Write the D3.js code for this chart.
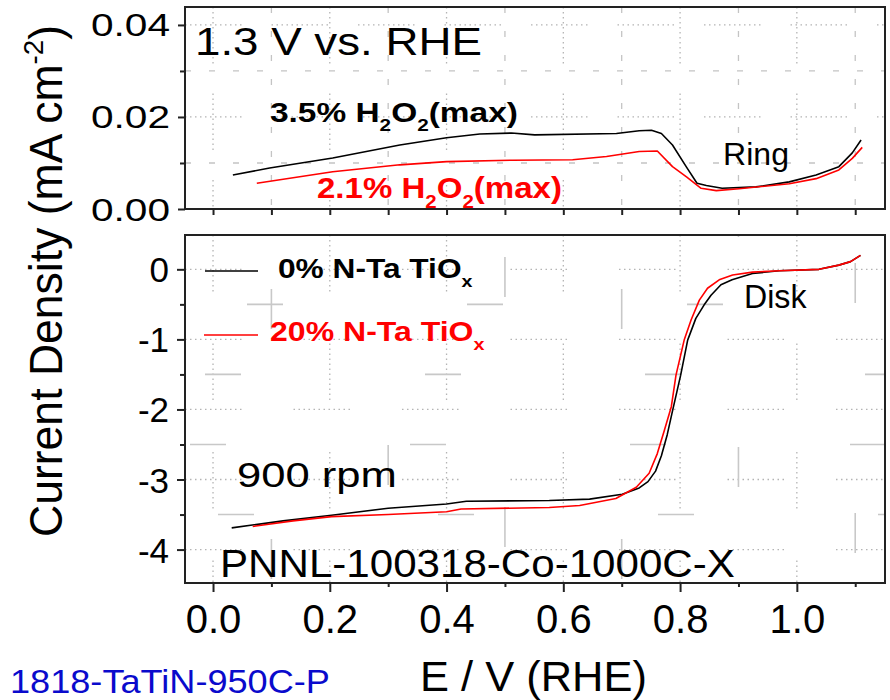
<!DOCTYPE html>
<html>
<head>
<meta charset="utf-8">
<script src="https://cdn.jsdelivr.net/npm/d3@7"></script>
<style>
  body { margin: 0; background: #fff; }
  svg { display: block; }
  text { font-family: "Liberation Sans", Arial, sans-serif; }
</style>
</head>
<body>
<svg id="chart" width="890" height="700"></svg>
<script>
// Axis ticks
const potentialTicks = [0, 0.2, 0.4, 0.6, 0.8, 1.0];
const potentialTickLabels = ["0.0", "0.2", "0.4", "0.6", "0.8", "1.0"];
const potentialMinor = [0.1, 0.3, 0.5, 0.7, 0.9, 1.1];
const ringTicks = [0, 0.02, 0.04];
const ringTickLabels = ["0.00", "0.02", "0.04"];
const ringMinor = [0.01, 0.03];
const diskTicks = [0, -1, -2, -3, -4];
const diskTickLabels = ["0", "-1", "-2", "-3", "-4"];
const diskMinor = [-0.5, -1.5, -2.5, -3.5];

// Ring current (mA cm-2) vs potential (V RHE)
const ringE_0 = [0.034, 0.097, 0.205, 0.320, 0.400, 0.457, 0.511, 0.551, 0.691, 0.730, 0.751, 0.768, 0.787, 0.811, 0.829, 0.845, 0.872, 0.930, 0.987, 1.033, 1.072, 1.095, 1.110];
const ringJ_0 = [0.0074, 0.0089, 0.0111, 0.0139, 0.0155, 0.0163, 0.0165, 0.0161, 0.0164, 0.0170, 0.0171, 0.0164, 0.0139, 0.0091, 0.0056, 0.0051, 0.0045, 0.0048, 0.0059, 0.0074, 0.0092, 0.0122, 0.0150];
const ringE_20 = [0.075, 0.205, 0.320, 0.400, 0.513, 0.616, 0.674, 0.730, 0.761, 0.787, 0.811, 0.836, 0.862, 0.901, 0.987, 1.033, 1.072, 1.095, 1.112];
const ringJ_20 = [0.0056, 0.0081, 0.0096, 0.0103, 0.0106, 0.0107, 0.0114, 0.0125, 0.0126, 0.0092, 0.0070, 0.0045, 0.0040, 0.0044, 0.0055, 0.0066, 0.0085, 0.0110, 0.0134];

// Disk current (mA cm-2) vs potential (V RHE)
const diskE_0 = [0.032, 0.120, 0.203, 0.300, 0.400, 0.434, 0.576, 0.645, 0.701, 0.730, 0.745, 0.758, 0.768, 0.778, 0.786, 0.801, 0.813, 0.827, 0.841, 0.853, 0.870, 0.889, 0.924, 0.970, 1.038, 1.072, 1.092, 1.109];
const diskJ_0 = [-3.69, -3.59, -3.51, -3.41, -3.35, -3.31, -3.30, -3.28, -3.21, -3.12, -3.03, -2.88, -2.66, -2.36, -2.06, -1.51, -1.01, -0.70, -0.51, -0.37, -0.22, -0.15, -0.06, -0.02, 0.00, 0.06, 0.11, 0.20];
const diskE_20 = [0.068, 0.137, 0.203, 0.300, 0.400, 0.425, 0.576, 0.628, 0.690, 0.725, 0.747, 0.761, 0.773, 0.785, 0.793, 0.807, 0.819, 0.833, 0.847, 0.867, 0.890, 0.924, 0.970, 1.038, 1.072, 1.092, 1.109];
const diskJ_20 = [-3.67, -3.59, -3.53, -3.50, -3.46, -3.42, -3.40, -3.37, -3.27, -3.11, -2.91, -2.63, -2.30, -1.96, -1.51, -1.01, -0.72, -0.44, -0.27, -0.15, -0.08, -0.04, -0.02, 0.00, 0.06, 0.11, 0.20];

const svg = d3.select("#chart");

const left = 185, right = 885;
const ringTop = 7, ringBottom = 209;
const diskTop = 235, diskBottom = 583;

const x = d3.scaleLinear().domain([-0.048, 1.151]).range([left, right]);
const yRing = d3.scaleLinear().domain([0, 0.0439]).range([ringBottom, ringTop]);
const yDisk = d3.scaleLinear().domain([-4.477, 0.49]).range([diskBottom, diskTop]);

// dotted pattern that comes in runs separated by gaps
function dottedRuns(dots, gap) {
  const a = [];
  for (let i = 0; i < dots; i++) a.push(1.5, 3.5);
  a[a.length - 1] = gap;
  return a.join(",");
}

// ---------- grids ----------
function grid(g, xs, ys, yScale, top, bottom, style) {
  g.selectAll(null).data(xs).join("line")
    .attr("x1", d => x(d)).attr("x2", d => x(d))
    .attr("y1", top).attr("y2", bottom)
    .attr("stroke", style.color).attr("stroke-width", style.width)
    .attr("stroke-dasharray", style.dashV || style.dash)
    .attr("stroke-dashoffset", (d, i) => style.offV ? style.offV[i] : 0);
  g.selectAll(null).data(ys).join("line")
    .attr("x1", left).attr("x2", right)
    .attr("y1", d => yScale(d)).attr("y2", d => yScale(d))
    .attr("stroke", style.color).attr("stroke-width", style.width)
    .attr("stroke-dasharray", style.dashH || style.dash)
    .attr("stroke-dashoffset", (d, i) => style.offH ? style.offH[i] : 0);
}

const gridG = svg.append("g");
// ring panel
grid(gridG, potentialTicks, [0.02, 0.04], yRing, ringTop, ringBottom,
  { color: "#b4b4b4", width: 1.3, dash: dottedRuns(12, 30) });
grid(gridG, potentialMinor, ringMinor, yRing, ringTop, ringBottom,
  { color: "#c4c4c4", width: 1.3, dash: "6,18" });
// disk panel
grid(gridG, potentialTicks, diskTicks, yDisk, diskTop, diskBottom,
  { color: "#b4b4b4", width: 1.3, dash: dottedRuns(12, 52) });
grid(gridG, potentialMinor, diskMinor, yDisk, diskTop, diskBottom,
  { color: "#c8c8c8", width: 1.6, dashH: "36,184", dashV: "40,210",
    offH: [220 - 62, 220 - 20, 220 - 5, 220 - 33],
    offV: [250 - 54, 250 - 210, 250 - 22, 250 - 54, 250 - 212, 250 - 28] });

// ---------- curves ----------
const ringLine = d3.line().x(d => x(d[0])).y(d => yRing(d[1]));
const diskLine = d3.line().x(d => x(d[0])).y(d => yDisk(d[1]));
const curves = svg.append("g").attr("fill", "none").attr("stroke-width", 1.6).attr("stroke-linejoin", "round");
curves.append("path").attr("d", ringLine(d3.zip(ringE_0, ringJ_0))).attr("stroke", "#000");
curves.append("path").attr("d", ringLine(d3.zip(ringE_20, ringJ_20))).attr("stroke", "#ff0000");
curves.append("path").attr("d", diskLine(d3.zip(diskE_0, diskJ_0))).attr("stroke", "#000");
curves.append("path").attr("d", diskLine(d3.zip(diskE_20, diskJ_20))).attr("stroke", "#ff0000");

// ---------- frames ----------
svg.append("rect").attr("x", left).attr("y", ringTop).attr("width", right - left).attr("height", ringBottom - ringTop)
  .attr("fill", "none").attr("stroke", "#222").attr("stroke-width", 2);
svg.append("rect").attr("x", left).attr("y", diskTop).attr("width", right - left).attr("height", diskBottom - diskTop)
  .attr("fill", "none").attr("stroke", "#222").attr("stroke-width", 2);

// ---------- axes ----------
function styleAxis(g) {
  g.select(".domain").remove();
  g.selectAll(".tick line").attr("stroke", "#222").attr("stroke-width", 2);
  g.selectAll("text").attr("fill", "#000").attr("font-family", "Liberation Sans, Arial, sans-serif");
}

// ring x ticks (no labels)
svg.append("g").attr("transform", `translate(0,${ringBottom})`)
  .call(d3.axisBottom(x).tickValues(d3.merge([potentialTicks, potentialMinor])).tickSize(6).tickFormat(""))
  .call(styleAxis);
// ring y axis
svg.append("g").attr("transform", `translate(${left},0)`)
  .call(d3.axisLeft(yRing).tickValues(ringMinor).tickSize(5).tickFormat(""))
  .call(styleAxis);
svg.append("g").attr("transform", `translate(${left},0)`)
  .call(d3.axisLeft(yRing).tickValues(ringTicks).tickSize(7).tickPadding(8)
    .tickFormat((d, i) => ringTickLabels[i]))
  .call(styleAxis)
  .call(g => g.selectAll("text").attr("font-size", 31).attr("dy", null).attr("y", 11)
    .attr("x", -15).attr("textLength", 79).attr("lengthAdjust", "spacingAndGlyphs"));

// disk x axis
svg.append("g").attr("transform", `translate(0,${diskBottom})`)
  .call(d3.axisBottom(x).tickValues(potentialMinor).tickSize(4).tickFormat(""))
  .call(styleAxis);
svg.append("g").attr("transform", `translate(0,${diskBottom})`)
  .call(d3.axisBottom(x).tickValues(potentialTicks).tickSize(9)
    .tickFormat((d, i) => potentialTickLabels[i]))
  .call(styleAxis)
  .call(g => g.selectAll("text").attr("font-size", 40).attr("dy", null).attr("y", 50));
// disk y axis
svg.append("g").attr("transform", `translate(${left},0)`)
  .call(d3.axisLeft(yDisk).tickValues(diskMinor).tickSize(5).tickFormat(""))
  .call(styleAxis);
svg.append("g").attr("transform", `translate(${left},0)`)
  .call(d3.axisLeft(yDisk).tickValues(diskTicks).tickSize(8)
    .tickFormat((d, i) => diskTickLabels[i]))
  .call(styleAxis)
  .call(g => g.selectAll("text").attr("font-size", 35).attr("dy", null).attr("y", 12.5).attr("x", -16));

// ---------- text labels ----------
// parts: [string, "sub" | "sup" | undefined]
function label(o) {
  const g = svg.append("g")
    .attr("transform", `translate(${o.x},${o.y})` + (o.rotate ? ` rotate(${o.rotate})` : ""));
  const t = g.append("text")
    .attr("font-size", o.size)
    .attr("font-weight", o.weight || "normal")
    .attr("fill", o.fill || "#000")
    .attr("text-anchor", o.anchor || "start");
  let shift = 0;
  o.parts.forEach(p => {
    const [str, kind] = Array.isArray(p) ? p : [p];
    let target = 0, fs = o.size;
    if (kind === "sub") { target = o.size * 0.32; fs = o.size * 0.62; }
    if (kind === "sup") { target = -o.size * 0.42; fs = o.size * 0.62; }
    t.append("tspan").attr("font-size", fs).attr("dy", target - shift).text(str);
    shift = target;
  });
  if (o.width) {
    const w = t.node().getBBox().width;
    t.attr("transform", `scale(${o.width / w},1)`);
  }
  return t;
}

label({ x: 62, y: 281, rotate: -90, anchor: "middle", size: 46, width: 512,
  parts: ["Current Density (mA cm", ["-2", "sup"], ")"] });
label({ x: 420, y: 691, size: 42, width: 227, parts: ["E / V (RHE)"] });
label({ x: 10, y: 693, size: 33, width: 320, fill: "#0a0acc", parts: ["1818-TaTiN-950C-P"] });

label({ x: 195, y: 55, size: 39, width: 287, parts: ["1.3 V vs. RHE"] });
label({ x: 723, y: 165, size: 32, width: 66, parts: ["Ring"] });
label({ x: 744, y: 308, size: 33, width: 63, parts: ["Disk"] });
label({ x: 237, y: 487, size: 36, width: 160, parts: ["900 rpm"] });
label({ x: 220, y: 577, size: 39, width: 515, parts: ["PNNL-100318-Co-1000C-X"] });

label({ x: 270, y: 122, size: 27, weight: "bold", width: 248,
  parts: ["3.5% H", ["2", "sub"], "O", ["2", "sub"], "(max)"] });
label({ x: 317, y: 198, size: 30, weight: "bold", width: 245, fill: "#ff0000",
  parts: ["2.1% H", ["2", "sub"], "O", ["2", "sub"], "(max)"] });

// legend
svg.append("line").attr("x1", 205).attr("x2", 258).attr("y1", 271).attr("y2", 271)
  .attr("stroke", "#000").attr("stroke-width", 1.6);
svg.append("line").attr("x1", 204).attr("x2", 258).attr("y1", 335).attr("y2", 335)
  .attr("stroke", "#ff0000").attr("stroke-width", 1.6);
label({ x: 278, y: 278, size: 28, weight: "bold", width: 195,
  parts: ["0% N-Ta TiO", ["x", "sub"]] });
label({ x: 270, y: 341, size: 28, weight: "bold", width: 215, fill: "#ff0000",
  parts: ["20% N-Ta TiO", ["x", "sub"]] });
</script>
</body>
</html>
